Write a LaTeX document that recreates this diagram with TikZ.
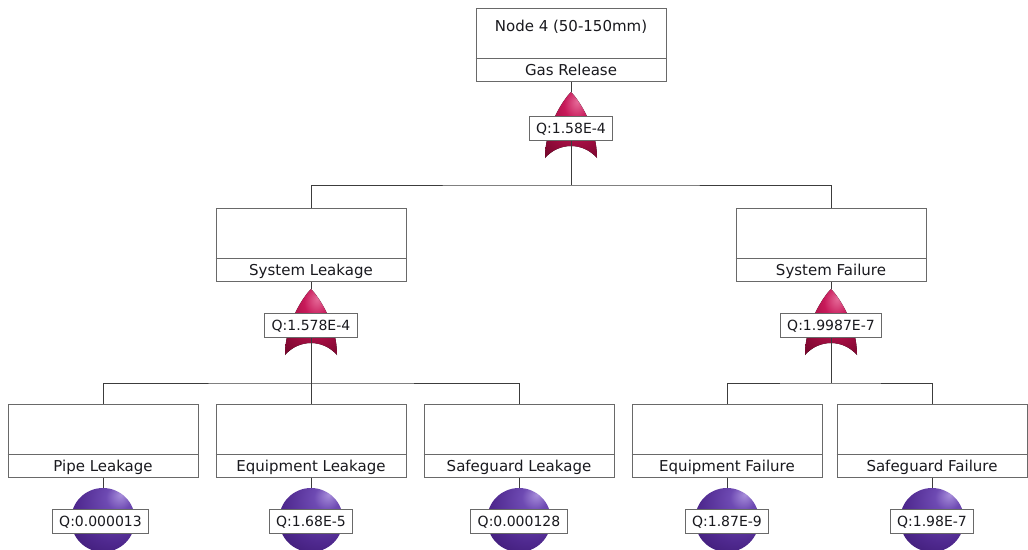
\documentclass[tikz,border=0pt]{standalone}
\usepackage{fontspec}
\setmainfont{DejaVu Sans}
\definecolor{boxgray}{RGB}{105,105,105}
\definecolor{linegray}{RGB}{60,60,60}
\definecolor{txt}{RGB}{25,25,30}
\pgfdeclareradialshading{gateshade}{\pgfpoint{6bp}{18bp}}{rgb(0bp)=(0.90,0.42,0.60); rgb(12bp)=(0.78,0.10,0.35); rgb(28bp)=(0.62,0.05,0.25); rgb(45bp)=(0.44,0.02,0.16); rgb(90bp)=(0.36,0.02,0.12)}
\pgfdeclareradialshading{ballshade}{\pgfpoint{14bp}{20bp}}{rgb(0bp)=(0.66,0.56,0.86); rgb(10bp)=(0.43,0.29,0.70); rgb(30bp)=(0.31,0.16,0.56); rgb(50bp)=(0.21,0.08,0.41); rgb(80bp)=(0.18,0.07,0.36)}
\tikzset{
  fbox/.style={draw=boxgray, line width=1pt, fill=white, minimum width=190pt, minimum height=73pt, inner sep=0pt},
  sepline/.style={draw=boxgray, line width=1pt},
  lbl/.style={font=\fontsize{15}{18}\selectfont, text=txt, inner sep=0pt, text height=10.8pt, text depth=0pt},
  qbox/.style={draw=boxgray, fill=white, line width=1pt, font=\fontsize{14}{16}\selectfont, text=txt, inner xsep=7pt, inner ysep=0pt, minimum height=24pt, text height=10.2pt, text depth=0pt},
  wire/.style={draw=linegray, line width=1pt},
  evball/.style={circle, minimum size=64pt, inner sep=0pt, shading=ballshade},
  orgate/.pic={\fill[shading=gateshade] (0,0) .. controls (8,8) and (26,35) .. (26,66) .. controls (12,50) and (-12,50) .. (-26,66) .. controls (-26,35) and (-8,8) .. (0,0) -- cycle;}
}
\newcommand\ftbox[5]{%
  \node[fbox] (#1) at (#2,#3+36.5) {};
  \draw[sepline] ([yshift=23pt]#1.south west) -- ([yshift=23pt]#1.south east);
  \node[lbl] (#1-b) at ([yshift=11.5pt]#1.south) {#5};
  \node[lbl] (#1-h) at ([yshift=-18.5pt]#1.north) {#4};
}
\begin{document}
\begin{tikzpicture}[x=1pt,y=-1pt]
\useasboundingbox[fill=white] (0,0) rectangle (1028,549);
% boxes
\ftbox{top}{571}{8}{Node 4 (50-150mm)}{Gas Release}
\ftbox{sl}{311}{208}{}{System Leakage}
\ftbox{sf}{831}{208}{}{System Failure}
\ftbox{pl}{103}{404}{}{Pipe Leakage}
\ftbox{el}{311}{404}{}{Equipment Leakage}
\ftbox{gl}{519}{404}{}{Safeguard Leakage}
\ftbox{ef}{727}{404}{}{Equipment Failure}
\ftbox{gf}{932}{404}{}{Safeguard Failure}
% gate tips and junctions
\coordinate (g1) at (571,92);
\coordinate (g2) at (311,289);
\coordinate (g3) at (831,289);
\coordinate (j1) at (571,185);
\coordinate (j2) at (311,383);
\coordinate (j3) at (831,383);
\draw[wire] (top.south) -- (g1);
\draw[wire] (sl.south) -- (g2);
\draw[wire] (sf.south) -- (g3);
\pic at (g1) {orgate};
\pic at (g2) {orgate};
\pic at (g3) {orgate};
\node[qbox] (q1) at (571,128) {Q:1.58E-4};
\node[qbox] (q2) at (311,325) {Q:1.578E-4};
\node[qbox] (q3) at (831,325) {Q:1.9987E-7};
\draw[wire] (q1.south) -- (j1);
\draw[wire] (q2.south) -- (j2);
\draw[wire] (q3.south) -- (j3);
\draw[wire] (sl.north) |- (j1) -| (sf.north);
\draw[wire] (pl.north) |- (j2) -| (gl.north);
\draw[wire] (j2) -- (el.north);
\draw[wire] (ef.north) |- (j3) -| (gf.north);
% basic events
\node[evball] (b1) at (103,520) {};
\node[evball] (b2) at (311,520) {};
\node[evball] (b3) at (519,520) {};
\node[evball] (b4) at (727,520) {};
\node[evball] (b5) at (932,520) {};
\draw[wire] (pl.south) -- (b1.north);
\draw[wire] (el.south) -- (b2.north);
\draw[wire] (gl.south) -- (b3.north);
\draw[wire] (ef.south) -- (b4.north);
\draw[wire] (gf.south) -- (b5.north);
\node[qbox] (qb1) at (100.5,521) {Q:0.000013};
\node[qbox] (qb2) at (311,521) {Q:1.68E-5};
\node[qbox] (qb3) at (519,521) {Q:0.000128};
\node[qbox] (qb4) at (727,521) {Q:1.87E-9};
\node[qbox] (qb5) at (932,521) {Q:1.98E-7};
\end{tikzpicture}
\end{document}
